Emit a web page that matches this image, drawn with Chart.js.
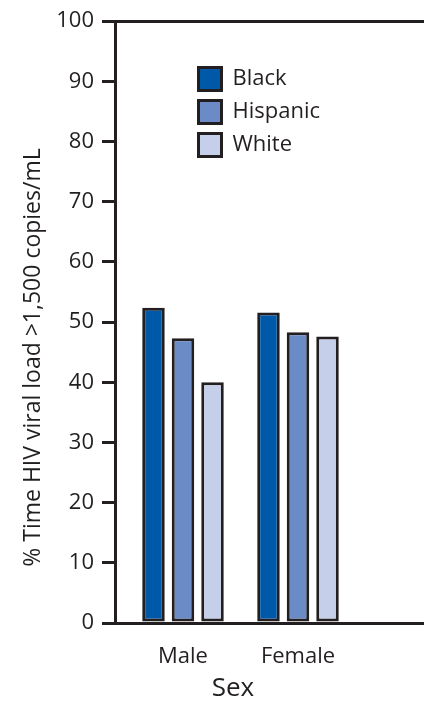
<!DOCTYPE html>
<html lang="en">
<head>
  <meta charset="UTF-8"/>
  <title>% Time HIV viral load by sex and race/ethnicity</title>
  <style>
    html, body { margin: 0; padding: 0; overflow: hidden; background: #fff; }
    #wrap { position: relative; width: 466px; height: 709px; }
  </style>
</head>
<body>
  <div id="wrap"><canvas id="chart"></canvas></div>
  <script src="https://cdn.jsdelivr.net/npm/chart.js@4.4.1/dist/chart.umd.min.js"></script>
  <script>
    // data
    const categories = ['Male', 'Female'];
    const seriesNames = ['Black', 'Hispanic', 'White'];
    const blackValues = [52.4, 51.6];
    const hispanicValues = [47.3, 48.3];
    const whiteValues = [40.0, 47.6];
    const yTickStep = 10;
    const yTitle = '% Time HIV viral load >1,500 copies/mL';
    const xTitle = 'Sex';

    const ink = '#231f20';
    const fills = ['#0058a8', '#6a8bc6', '#c5cfea'];
    const font = 'Open Sans';
    const seriesValues = [blackValues, hispanicValues, whiteValues];

    // legend sits inside the plot area, upper middle
    const legendSpot = {
      id: 'legendSpot',
      afterLayout(chart) {
        chart.legend.left = 188.5;
        chart.legend.top = 57.5;
      }
    };

    new Chart(document.getElementById('chart'), {
      type: 'bar',
      data: {
        datasets: seriesNames.map((name, k) => ({
          label: name,
          data: seriesValues[k].map((v, i) => ({ x: i + 1, y: v })),
          backgroundColor: fills[k],
          borderColor: ink,
          borderWidth: 3,
          borderSkipped: false,
          categoryPercentage: 0.77,
          barPercentage: 0.763
        }))
      },
      options: {
        responsive: true,
        maintainAspectRatio: false,
        animation: false,
        layout: { padding: { top: 16, bottom: 10, left: 0, right: 0 } },
        plugins: {
          legend: {
            position: 'chartArea',
            align: 'start',
            labels: {
              boxWidth: 23, boxHeight: 23, padding: 10,
              color: ink, font: { family: font, size: 22 }
            }
          },
          title: {
            display: true, position: 'left', text: yTitle, color: ink,
            font: { family: font, size: 23, weight: 'normal', lineHeight: 1.2 },
            padding: { top: 20, bottom: 0 }
          },
          subtitle: {
            display: true, position: 'bottom', text: xTitle, color: ink,
            font: { family: font, size: 26, weight: 'normal', lineHeight: 0.8 },
            padding: 0
          },
          tooltip: { enabled: false }
        },
        scales: {
          x: {
            type: 'linear',
            offset: false,
            min: 0.4087, max: 3.461,
            afterBuildTicks: axis => { axis.ticks = categories.map((_, i) => ({ value: i + 1 })); },
            ticks: {
              callback: v => categories[v - 1],
              padding: 21, autoSkip: false, maxRotation: 0,
              color: ink, font: { family: font, size: 22 }
            },
            grid: { display: false, drawTicks: false, offset: false },
            border: { color: ink, width: 3 },
            afterFit: s => { s.height = 55.2; }
          },
          y: {
            min: 0, max: 100,
            ticks: { stepSize: yTickStep, padding: 8, color: ink, font: { family: font, size: 22 } },
            grid: {
              color: c => (c.tick && c.tick.value === 100 ? ink : 'rgba(0,0,0,0)'),
              tickColor: ink, lineWidth: 3, tickLength: 13
            },
            border: { color: ink, width: 3 },
            afterFit: s => { s.width = 67.4; }
          }
        }
      },
      plugins: [legendSpot]
    });
  </script>
</body>
</html>
